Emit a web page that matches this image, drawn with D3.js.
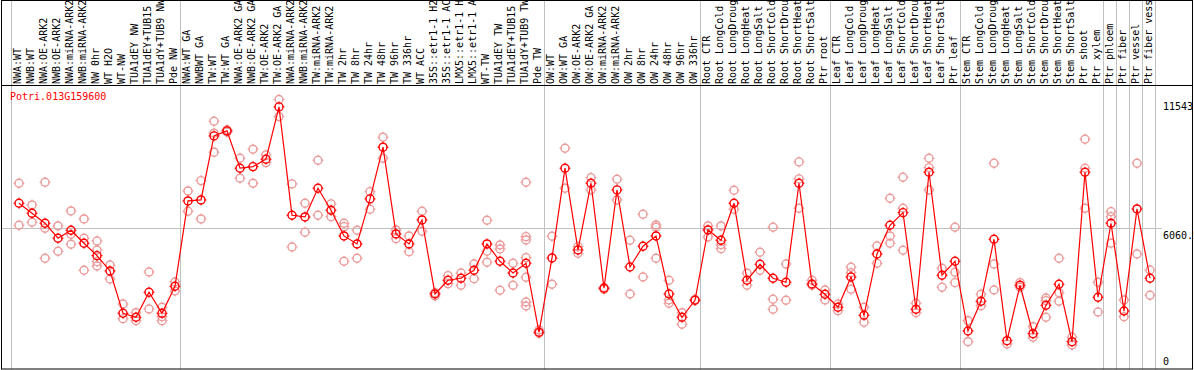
<!DOCTYPE html>
<html>
<head>
<meta charset="UTF-8">
<title>Potri.013G159600</title>
<style>
  body { margin: 0; background: #fff; }
  text { font-family: "DejaVu Sans Mono", monospace; font-size: 10px; }
</style>
</head>
<body>
<script src="https://cdn.jsdelivr.net/npm/d3@7"></script>
<script>
// sample names, left to right
var labels = [
  "NWA:WT","NWB:WT","NWA:OE-ARK2","NWB:OE-ARK2","NWA:miRNA-ARK2","NWB:miRNA-ARK2","NW 0hr","WT H2O","WT-NW",
  "TUA1dEY NW","TUA1dEY+TUB15","TUA1dY+TUB9 NW","Pde NW",
  "NWA:WT GA","NWBWT GA","TW:WT","TW:WT GA","NWA:OE-ARK2 GA","NWB:OE-ARK2 GA","TW:OE-ARK2","TW:OE-ARK2 GA",
  "NWA:miRNA-ARK2","NWB:miRNA-ARK2","TW:miRNA-ARK2","TW:miRNA-ARK2","TW 2hr","TW 8hr","TW 24hr","TW 48hr",
  "TW 96hr","TW 336hr","WT ACC","35S::etr1-1 H2O","35S::etr1-1 ACC","LMX5::etr1-1 H2O","LMX5::etr1-1 ACC",
  "WT-TW","TUA1dEY TW","TUA1dEY+TUB15","TUA1dY+TUB9 TW","Pde TW",
  "OW:WT","OW:WT GA","OW:OE-ARK2","OW:OE-ARK2 GA","OW:miRNA-ARK2","OW:miRNA-ARK2","OW 2hr","OW 8hr","OW 24hr",
  "OW 48hr","OW 96hr","OW 336hr",
  "Root CTR","Root LongCold","Root LongDrought","Root LongHeat","Root LongSalt","Root ShortCold","Root ShortDrought",
  "Root ShortHeat","Root ShortSalt","Ptr root",
  "Leaf CTR","Leaf LongCold","Leaf LongDrought","Leaf LongHeat","Leaf LongSalt","Leaf ShortCold","Leaf ShortDrought",
  "Leaf ShortHeat","Leaf ShortSalt","Ptr leaf",
  "Stem CTR","Stem LongCold","Stem LongDrought","Stem LongHeat","Stem LongSalt","Stem ShortCold","Stem ShortDrought",
  "Stem ShortHeat","Stem ShortSalt","Ptr shoot","Ptr xylem",
  "Ptr phloem","Ptr fiber","Ptr vessel","Ptr fiber vessel"
];

// number of samples in each block between grey separators
var groupSizes = [13, 28, 12, 10, 10, 11, 1, 1, 1, 1];

// mean expression per sample
var means = [
  7105,6677,6249,5607,5949,5393,4862,4207,2397,2226,3296,2397,3552,
  7203,7246,9985,10199,8603,8671,8988,11226,6591,6518,7747,6805,5705,5363,7289,9502,
  5791,5363,6390,3223,3809,3895,4237,5363,4622,4122,4537,1584,
  4764,8603,5106,7961,3467,7674,4378,5264,5705,3223,2226,2953,
  5962,5521,7105,3809,4494,3895,3724,7961,3651,3210,
  2654,3950,2311,4935,6163,6702,2568,8432,4023,4622,
  1639,2910,5564,1224,3595,1524,2739,3638,1181,8432,3082,
  6249,2495,6861,3895
];

// individual replicate values per sample
var reps = [
  [7961,6163],[7032,6292],[8004,6035,4751],[6133,5050],[6775,5778,5350],[6433,5607,4237],
  [5491,5106,4605,4421],[4464,3865],[2795,2166],[2422,2080],[4164,2581],[2654,2251,2080],[3736,3351],
  [7631,6762],[8072,6433],[10614,10101,9288],[10250,10150],[9031,8175],[9416,7961],[9172,8842],
  [11543,10811],[7931,5234],[7105,5864],[8945,6591],[7075,6531],[6249,6103,4622],[5949,4751],
  [7601,6848],[9930,9031],[5962,5590],[5705,5033],[6762,5906],[3278,3137],[4006,3664],[4122,3595],
  [4507,3878],[6377,5050,4580],[5320,5149,3381],[4537,3595],[8004,5675,5534,4776,3938,2880,2709],
  [1541,1682],
  [5692,3638],[9459,7747],[5247,4965],[8200,7674],[3500,3420],[8132,7246],[5521,3223],[6634,3950],
  [6176,6078,4751],[3809,2966,2825],[2422,1926],[2950,2990],
  [6133,5662],[6133,5333,5162],[7661,6848],[4109,3595],[5008,4237],[6078,2996,2568],[4507,2953],
  [8872,8145,6891],[3809,3595],[3394,2966],
  [2795,2508],[4366,4134,3424],[2654,2012],[5277,4537],[7319,5705,5393],[8218,6891,5093],
  [2825,2422],[9031,8628,7674],[4323,3510],[6078,4152,3706],
  [2080,1181],[3210,2722],[8817,4507,3394],[1083],[3706,3510],[1823,1370],[3052,2936,2226],
  [4751,3278,2910],[1370,1040],[9844,8603,6891],[3724,2452],
  [6745,6531,5393],[2966,2251],[8817,4935],[4250,3167]
];

var geneName = "Potri.013G159600";
var axisLabels = ["11543", "6060.5", "0"];
var axisValues = [11543, 6060, 0];

var W = 1194, H = 370;
var plotLeft = 11, plotRight = 1155, plotTop = 86, plotBottom = 369.3;
var grey = "#c0c0c0";

var svg = d3.select("body").append("svg")
    .attr("width", W)
    .attr("height", H);

var x = d3.scaleBand()
    .domain(d3.range(labels.length))
    .range([plotLeft, plotRight])
    .padding(0);

var y = d3.scaleLinear()
    .domain([0, 12120])
    .range([plotBottom, plotTop]);

var px = function(i) { return x(i) + x.bandwidth() / 2 + 1.5; };

// separators between blocks
var bounds = [0];
groupSizes.forEach(function(n) { bounds.push(bounds[bounds.length - 1] + n); });
svg.append("g")
    .attr("stroke", grey)
    .attr("stroke-width", 1)
    .selectAll("line")
    .data(bounds)
    .enter().append("line")
    .attr("x1", d => Math.round(plotLeft + d * x.step()) + 0.5)
    .attr("x2", d => Math.round(plotLeft + d * x.step()) + 0.5)
    .attr("y1", 0)
    .attr("y2", plotBottom);

// middle grid line
svg.append("line")
    .attr("x1", 1).attr("x2", 1162)
    .attr("y1", Math.round(y(6060)) + 0.5).attr("y2", Math.round(y(6060)) + 0.5)
    .attr("stroke", grey);

// frame
svg.append("rect")
    .attr("x", 1.5).attr("y", 0.5)
    .attr("width", 1191).attr("height", 368.5)
    .attr("fill", "none")
    .attr("stroke", "#000");
svg.append("line")
    .attr("x1", 1).attr("x2", 1193)
    .attr("y1", 85.5).attr("y2", 85.5)
    .attr("stroke", "#000");

// rotated sample names
svg.append("g")
    .selectAll("text")
    .data(labels)
    .enter().append("text")
    .attr("transform", (d, i) => "translate(" + (x(i) + x.bandwidth() / 2) + ",84) rotate(-90)")
    .attr("dy", "0.36em")
    .attr("fill", "#000")
    .text(d => d);

// gene name
svg.append("text")
    .attr("x", 10).attr("y", 100)
    .attr("fill", "#f00")
    .text(geneName);

// right hand value labels
svg.append("g")
    .selectAll("text")
    .data(axisValues)
    .enter().append("text")
    .attr("x", 1163)
    .attr("y", (d, i) => i < 2 ? y(d) + 11 : y(d) - 4)
    .attr("fill", "#000")
    .text((d, i) => axisLabels[i]);

// marker: ring with four small ticks
function marker(g, color) {
  g.append("circle").attr("r", 4).attr("fill", "none").attr("stroke", color).attr("stroke-width", 1.4);
  g.append("path")
    .attr("d", "M0,-5.5V-3.5M0,3.5V5.5M-5.5,0H-3.5M3.5,0H5.5")
    .attr("stroke", color).attr("stroke-width", 1);
}

// replicates
var repPoints = [];
reps.forEach(function(r, i) { r.forEach(function(v) { repPoints.push({ i: i, v: v }); }); });
svg.append("g")
    .selectAll("g")
    .data(repPoints)
    .enter().append("g")
    .attr("transform", d => "translate(" + px(d.i) + "," + y(d.v) + ")")
    .each(function() { marker(d3.select(this), "#eb9a9a"); });

// mean line
var line = d3.line()
    .x((d, i) => px(i))
    .y(d => y(d));
svg.append("path")
    .datum(means)
    .attr("d", line)
    .attr("fill", "none")
    .attr("stroke", "#f00")
    .attr("stroke-width", 1.2);

svg.append("g")
    .selectAll("g")
    .data(means)
    .enter().append("g")
    .attr("transform", (d, i) => "translate(" + px(i) + "," + y(d) + ")")
    .each(function() { marker(d3.select(this), "#f00"); });
</script>
</body>
</html>
